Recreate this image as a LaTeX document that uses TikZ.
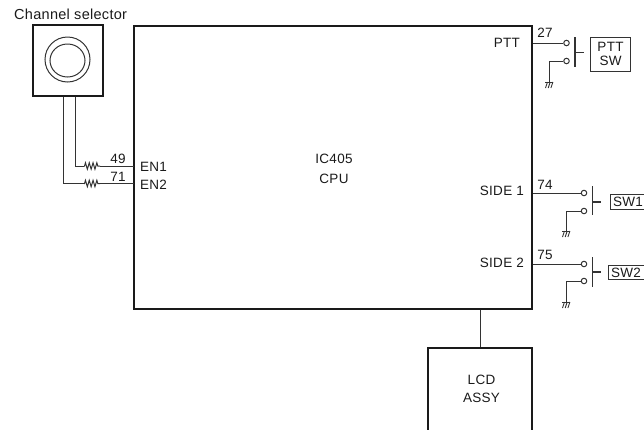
\documentclass[tikz,border=0pt]{standalone}
\usepackage{fontspec}
\setmainfont[LetterSpace=2]{Liberation Sans}
\usetikzlibrary{positioning, calc, decorations.pathmorphing}
\definecolor{inkdark}{HTML}{1A1A1A}
\definecolor{wiregray}{HTML}{333333}

\begin{document}
\begin{tikzpicture}[
  x=1pt, y=-1pt,
  every node/.style={font=\fontsize{13.5}{15}\selectfont, text=inkdark, inner sep=0pt, align=center},
  block/.style={draw=inkdark, line width=1.4pt, minimum width=0pt, inner sep=0pt},
  wire/.style={draw=wiregray, line width=1pt},
  contact/.style={circle, draw=wiregray, fill=white, line width=1pt, minimum size=5.5pt},
  bar/.style={draw=wiregray, line width=1.1pt},
  swbox/.style={draw=wiregray, line width=1pt, rectangle, anchor=west},
  res/.style={wire, decorate, decoration={zigzag, amplitude=3.2pt, segment length=3.8pt, pre length=0.5pt, post length=0.5pt}},
  gnd/.pic={
    \draw[wire] (-4,0) -- (4,0);
    \draw[wire, line width=0.9pt] (-3.5,6) -- (-1.5,0) (-0.8,6) -- (1.2,0) (1.9,6) -- (3.9,0);
  }
]
  \clip (0,0) rectangle (644,429);

  \node[block, minimum width=398pt, minimum height=283pt] (cpu) at (333,167.5) {};
  \node (cpulabel) at (334,168.5) {IC405\\[5pt]CPU};
  \node[block, minimum width=70pt, minimum height=71pt] (selector) at (68,60.5) {};
  \node[anchor=west, font=\fontsize{14.5}{16}\selectfont] (seltext) at (14,14) {Channel selector};
  \draw[wire] (67.5,59.5) circle[radius=22.5];
  \draw[wire] (67.5,60.5) ellipse[x radius=17.5, y radius=16.5];

  \coordinate (a1) at (75,166);
  \coordinate (r1a) at (84,166);
  \coordinate (r1b) at (100,166);
  \coordinate (p1) at (134,166);
  \coordinate (a2) at (63,183.5);
  \coordinate (r2a) at (84,183.5);
  \coordinate (r2b) at (100,183.5);
  \coordinate (p2) at (134,183.5);
  \draw[wire] (selector.south -| a1) -- (a1) -- (r1a);
  \draw[res] (r1a) -- (r1b);
  \draw[wire] (r1b) -- (p1);
  \draw[wire] (selector.south -| a2) -- (a2) -- (r2a);
  \draw[res] (r2a) -- (r2b);
  \draw[wire] (r2b) -- (p2);
  \node (n49) at (118,159) {49};
  \node (n71) at (118,177) {71};
  \node[anchor=west] (en1) at (140,167) {EN1};
  \node[anchor=west] (en2) at (140,185) {EN2};

  \node[anchor=east] (ptt) at (520,43) {PTT};
  \node[anchor=east] (side1) at (524,191) {SIDE 1};
  \node[anchor=east] (side2) at (524,263) {SIDE 2};
  \node (n27) at (545,33) {27};
  \node (n74) at (545,185) {74};
  \node (n75) at (545,255) {75};

  % PTT switch
  \node[contact] (c1) at (566.5,43) {};
  \node[contact] (c2) at (566.5,61) {};
  \coordinate (g1) at (549,61);
  \coordinate (g1e) at (549,82);
  \draw[wire] (cpu.east |- c1) -- (c1);
  \draw[wire] (c2) -- (g1) -- (g1e);
  \pic at (g1e) {gnd};
  \coordinate (b1) at (575,37);
  \coordinate (b2) at (575,67);
  \coordinate (b3) at (575,52.5);
  \coordinate (b4) at (584,52.5);
  \draw[bar] (b1) -- (b2);
  \draw[bar] (b3) -- (b4);
  \node[swbox, minimum width=40pt, minimum height=34pt] (pttsw) at (590,54) {PTT\\[-1.5pt]SW};

  % side switches
  \node[contact] (c3) at (584,193) {};
  \node[contact] (c4) at (584,211) {};
  \coordinate (g2) at (566,211);
  \coordinate (g2e) at (566,231);
  \draw[wire] (cpu.east |- c3) -- (c3);
  \draw[wire] (c4) -- (g2) -- (g2e);
  \pic at (g2e) {gnd};
  \coordinate (b5) at (592.5,186);
  \coordinate (b6) at (592.5,215);
  \coordinate (b7) at (592.5,202);
  \coordinate (b8) at (601,202);
  \draw[bar] (b5) -- (b6);
  \draw[bar] (b7) -- (b8);
  \node[swbox, minimum width=40pt, minimum height=15pt] (sw1) at (610,201.5) {};
  \node[anchor=west] (sw1text) at (613,202) {SW1};

  \node[contact] (c5) at (584,264) {};
  \node[contact] (c6) at (584,281) {};
  \coordinate (g3) at (566,281);
  \coordinate (g3e) at (566,302);
  \draw[wire] (cpu.east |- c5) -- (c5);
  \draw[wire] (c6) -- (g3) -- (g3e);
  \pic at (g3e) {gnd};
  \coordinate (b9) at (592.5,257);
  \coordinate (b10) at (592.5,287);
  \coordinate (b11) at (592.5,272);
  \coordinate (b12) at (601,272);
  \draw[bar] (b9) -- (b10);
  \draw[bar] (b11) -- (b12);
  \node[swbox, minimum width=42pt, minimum height=14pt] (sw2) at (608,272.5) {};
  \node[anchor=west] (sw2text) at (611,273) {SW2};

  \node[block, minimum width=104pt, minimum height=100pt] (lcd) at (480,398) {};
  \node (lcdlabel) at (481.5,389) {LCD\\[3pt]ASSY};
  \draw[wire] (cpu.south -| lcd.north) -- (lcd.north);
\end{tikzpicture}
\end{document}
